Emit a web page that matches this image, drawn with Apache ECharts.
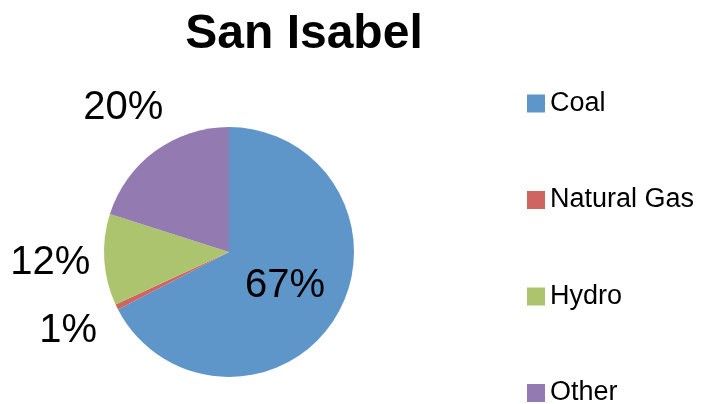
<!DOCTYPE html>
<html>
<head>
<meta charset="utf-8">
<script src="https://cdn.jsdelivr.net/npm/echarts@6/dist/echarts.min.js"></script>
<style>
  html, body { margin: 0; padding: 0; background: #fff; }
  #chart { width: 705px; height: 404px; }
</style>
</head>
<body>
<div id="chart"></div>
<script>
// data
var titleText = 'San Isabel';
var sources = ['Coal', 'Natural Gas', 'Hydro', 'Other'];
var shares = [67.4, 0.7, 11.8, 20.1];
var colors = ['#5F96CA', '#CE6560', '#ACC46E', '#937AB0'];

var font = '"Liberation Sans", Arial, sans-serif';

function pct(p) {
    return Math.round(p.percent) + '%';
}

// main pie, only Coal labelled inside
var pieData = sources.map(function (name, i) {
    return {
        name: name,
        value: shares[i],
        itemStyle: { color: colors[i] },
        label: { show: i === 0 }
    };
});

// invisible wide ring that only carries the outside labels
var labelData = sources.map(function (name, i) {
    return {
        name: name,
        value: shares[i],
        itemStyle: { color: 'rgba(0,0,0,0)' },
        label: { show: i !== 0 }
    };
});

var chart = echarts.init(document.getElementById('chart'));
chart.setOption({
    animation: false,
    title: {
        text: titleText,
        left: 299,
        textAlign: 'center',
        top: 6,
        textStyle: { fontFamily: font, fontSize: 48, fontWeight: 'bold', color: '#000' }
    },
    legend: {
        orient: 'vertical',
        left: 527,
        top: 90,
        height: 330,
        padding: 0,
        itemWidth: 18,
        itemHeight: 18,
        itemGap: 69.5,
        icon: 'rect',
        data: sources,
        textStyle: { fontFamily: font, fontSize: 27, color: '#000', lineHeight: 24 }
    },
    series: [
        {
            type: 'pie',
            center: [229, 252],
            radius: [0, 125],
            startAngle: 90,
            clockwise: true,
            silent: true,
            data: pieData,
            label: {
                position: 'inside',
                formatter: pct,
                fontFamily: font,
                fontSize: 40,
                color: '#000'
            },
            labelLine: { show: false }
        },
        {
            type: 'pie',
            center: [229, 252],
            radius: [0, 352],
            startAngle: 90,
            clockwise: true,
            silent: true,
            legendHoverLink: false,
            data: labelData,
            label: {
                position: 'inside',
                formatter: pct,
                fontFamily: font,
                fontSize: 40,
                color: '#000'
            },
            labelLine: { show: false }
        }
    ]
});
</script>
</body>
</html>
